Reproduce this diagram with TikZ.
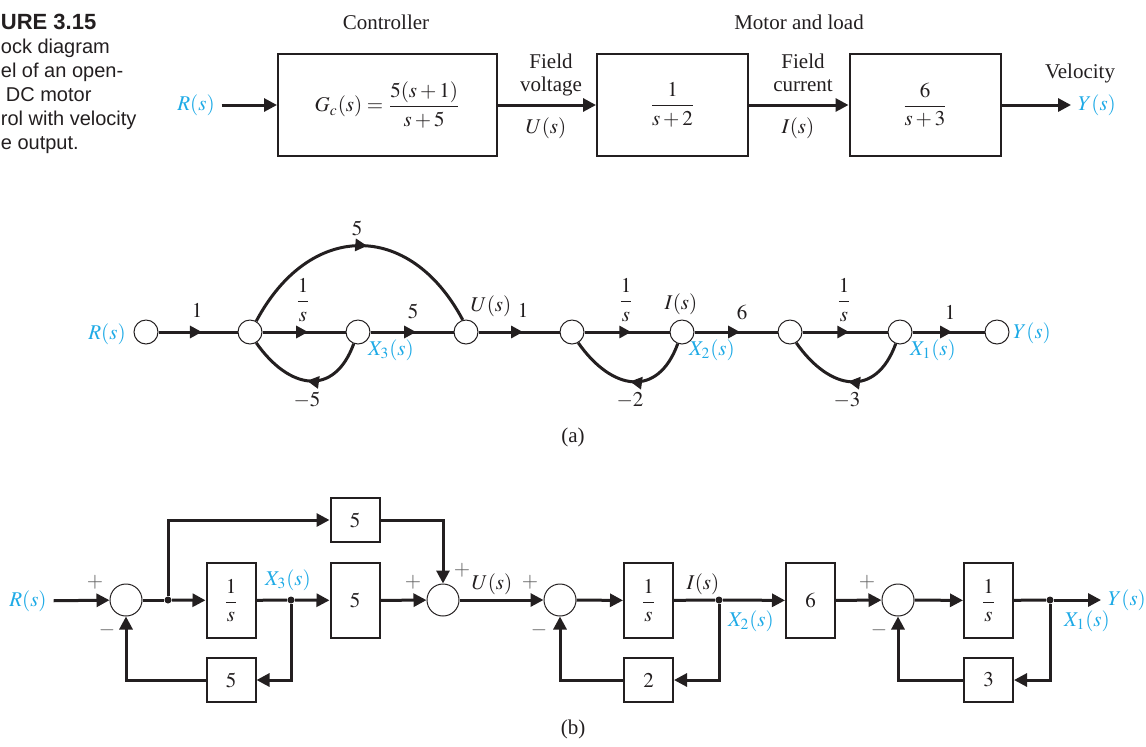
\documentclass[tikz,border=0pt]{standalone}
\usepackage{amsmath}
\usepackage{mathptmx}
\usepackage{fontspec}
\setmainfont{Liberation Serif}
\setsansfont{Liberation Sans}
\usetikzlibrary{arrows.meta,decorations.markings}

\definecolor{sigblue}{RGB}{30,170,230}
\definecolor{ink}{RGB}{35,31,32}
\definecolor{signgray}{RGB}{95,95,95}

\tikzset{
  blk/.style={draw=ink, line width=1pt, inner sep=0pt},
  wideblk/.style={blk, minimum width=109.5pt, minimum height=51pt},
  plantblk/.style={blk, minimum width=75.5pt, minimum height=51pt},
  tallblk/.style={blk, minimum width=24.5pt, minimum height=37.5pt},
  gainblk/.style={blk, minimum width=24.5pt, minimum height=22pt},
  sumj/.style={draw=ink, circle, line width=0.5pt, minimum size=16pt, inner sep=0pt},
  sfnode/.style={draw=ink, circle, line width=0.5pt, minimum size=12pt, inner sep=0pt},
  pick/.style={circle, fill=ink, minimum size=3.5pt, inner sep=0pt},
  wire/.style={draw=ink, line width=1.5pt},
  sig/.style={wire, -{Triangle[length=6.5pt,width=6.5pt]}},
  branch/.style={wire, postaction={decorate},
    decoration={markings, mark=at position #1 with {\arrow{Triangle[length=6pt,width=6pt]}}}},
  branch/.default=0.55,
  sigtxt/.style={text=sigblue},
  sgn/.style={text=signgray},
  captxt/.style={anchor=base west, inner sep=0pt, font=\sffamily\fontsize{10}{12}\selectfont},
}

\begin{document}
\begin{tikzpicture}[x=0.5pt, y=0.5pt, every node/.style={text=ink, font=\fontsize{10.5}{12.6}\selectfont}]
\useasboundingbox (0,0) rectangle (1146,-746);

% cut-off figure caption at the left edge
\node[captxt, font=\sffamily\bfseries\fontsize{11}{13}\selectfont] (capt) at (0.5,-29) {URE 3.15};
\node[captxt] (cap1) at (0.5,-53.5) {ock diagram};
\node[captxt] (cap2) at (0.5,-77) {el of an open-};
\node[captxt] (cap3) at (5.5,-101) {DC motor};
\node[captxt] (cap4) at (0.5,-125) {rol with velocity};
\node[captxt] (cap5) at (0.5,-149) {e output.};

% open-loop block diagram
\node[sigtxt] (rtop) at (196,-105) {$R(s)$};
\node[wideblk] (ctrl) at (387.5,-105) {$G_c(s)=\dfrac{5(s+1)}{s+5}$};
\node[plantblk] (fld) at (672.5,-105) {$\dfrac{1}{s+2}$};
\node[plantblk] (mot) at (925,-105) {$\dfrac{6}{s+3}$};
\node[sigtxt] (ytop) at (1097,-105) {$Y(s)$};
\node[anchor=base] (ctrltxt) at (386,-29) {Controller};
\node[anchor=base] (mottxt) at (799,-29) {Motor and load};
\node[anchor=base] (fv1) at (551,-68) {Field};
\node[anchor=base] (fv2) at (551,-91) {voltage};
\node[anchor=base] (utop) at (546,-133) {$U(s)$};
\node[anchor=base] (fc1) at (803,-68) {Field};
\node[anchor=base] (fc2) at (803,-91) {current};
\node[anchor=base] (itop) at (798,-133) {$I(s)$};
\node[anchor=base] (vel) at (1080,-78) {Velocity};
\draw[sig] (rtop) -- (ctrl);
\draw[sig] (ctrl) -- (fld);
\draw[sig] (fld) -- (mot);
\draw[sig] (mot) -- (ytop);

% (a) signal-flow graph
\node[sfnode] (r) at (146,-332) {};
\node[sfnode] (n2) at (250,-332) {};
\node[sfnode] (x3) at (358,-332) {};
\node[sfnode] (u) at (466,-332) {};
\node[sfnode] (n5) at (572,-332) {};
\node[sfnode] (i) at (682,-332) {};
\node[sfnode] (n7) at (790,-332) {};
\node[sfnode] (x1) at (900,-332) {};
\node[sfnode] (y) at (997,-332) {};
\draw[branch] (r) -- (n2);
\draw[branch] (n2) -- (x3);
\draw[branch] (x3) -- (u);
\draw[branch] (u) -- (n5);
\draw[branch] (n5) -- (i);
\draw[branch] (i) -- (n7);
\draw[branch] (n7) -- (x1);
\draw[branch] (x1) -- (y);
\draw[branch=0.53] (n2.60) to[out=62, in=118, looseness=1.4] (u.105);
\draw[branch=0.5] (x3.250) to[out=250, in=305, looseness=1.5] (n2.300);
\draw[branch=0.5] (i.250) to[out=250, in=305, looseness=1.5] (n5.300);
\draw[branch=0.5] (x1.250) to[out=250, in=305, looseness=1.5] (n7.300);
\node[sigtxt] (rlab) at (107,-334) {$R(s)$};
\node (g1) at (197,-310) {$1$};
\node (g2) at (303,-300) {$\dfrac{1}{s}$};
\node (g3) at (413,-311) {$5$};
\node (g4) at (357,-228) {$5$};
\node (g5) at (307,-400) {$-5$};
\node (ulab) at (491,-306) {$U(s)$};
\node (g6) at (523,-310) {$1$};
\node[sigtxt] (x3lab) at (391,-350) {$X_3(s)$};
\node (g7) at (626,-300) {$\dfrac{1}{s}$};
\node (ilab) at (681,-304) {$I(s)$};
\node[sigtxt] (x2lab) at (712,-350) {$X_2(s)$};
\node (g8) at (742,-312) {$6$};
\node (g9) at (630,-400) {$-2$};
\node (g10) at (844,-300) {$\dfrac{1}{s}$};
\node[sigtxt] (x1lab) at (933,-350) {$X_1(s)$};
\node (g11) at (950,-312) {$1$};
\node (g12) at (847,-400) {$-3$};
\node[sigtxt] (ylab) at (1032,-333) {$Y(s)$};
\node (capa) at (573,-437) {(a)};

% (b) block diagram with integrators
\node[sigtxt] (rb) at (28,-601) {$R(s)$};
\node[sumj] (s1) at (126,-600) {};
\node[pick] (d1) at (168,-600) {};
\node[tallblk] (b1) at (231,-600.5) {$\dfrac{1}{s}$};
\node[pick] (d2) at (291,-600) {};
\node[tallblk] (b2) at (355,-600.5) {$5$};
\node[gainblk] (b3) at (355,-520) {$5$};
\node[gainblk] (b4) at (231,-680) {$5$};
\node[sumj] (s2) at (443,-600) {};
\node[sumj] (s3) at (560,-600) {};
\node[tallblk] (b5) at (648.5,-600.5) {$\dfrac{1}{s}$};
\node[pick] (d3) at (719,-600) {};
\node[tallblk] (b6) at (810.5,-600.5) {$6$};
\node[gainblk] (b8) at (648.5,-680) {$2$};
\node[sumj] (s4) at (898,-600) {};
\node[tallblk] (b7) at (988.5,-600.5) {$\dfrac{1}{s}$};
\node[pick] (d4) at (1050,-600) {};
\node[gainblk] (b9) at (988.5,-680) {$3$};
\node[sigtxt] (yb) at (1127,-600) {$Y(s)$};
\draw[sig] (rb) -- (s1);
\draw[wire] (s1) -- (d1);
\draw[sig] (d1) -- (b1);
\draw[wire] (b1) -- (d2);
\draw[sig] (d2) -- (b2);
\draw[sig] (b2) -- (s2);
\draw[sig] (d1) |- (b3);
\draw[sig] (b3) -| (s2);
\draw[sig] (d2) |- (b4);
\draw[sig] (b4) -| (s1);
\draw[sig] (s2) -- (s3);
\draw[sig] (s3) -- (b5);
\draw[wire] (b5) -- (d3);
\draw[sig] (d3) -- (b6);
\draw[sig] (d3) |- (b8);
\draw[sig] (b8) -| (s3);
\draw[sig] (b6) -- (s4);
\draw[sig] (s4) -- (b7);
\draw[wire] (b7) -- (d4);
\draw[sig] (d4) -- (yb);
\draw[sig] (d4) |- (b9);
\draw[sig] (b9) -| (s4);
% signs and signal names
\node[sgn] (p1) at (95,-582) {$+$};
\node[sgn] (m1) at (107,-630) {$-$};
\node[sgn] (p2) at (413,-582) {$+$};
\node[sgn] (p3) at (462,-570) {$+$};
\node[sgn] (p4) at (530,-582) {$+$};
\node[sgn] (m3) at (539,-630) {$-$};
\node[sgn] (p5) at (867,-582) {$+$};
\node[sgn] (m4) at (879,-630) {$-$};
\node[sigtxt] (x3b) at (288,-580) {$X_3(s)$};
\node (ub) at (492,-584) {$U(s)$};
\node (ib) at (703,-584) {$I(s)$};
\node[sigtxt] (x2b) at (751,-621) {$X_2(s)$};
\node[sigtxt] (x1b) at (1087,-621) {$X_1(s)$};
\node (capb) at (573,-729) {(b)};
\end{tikzpicture}
\end{document}
